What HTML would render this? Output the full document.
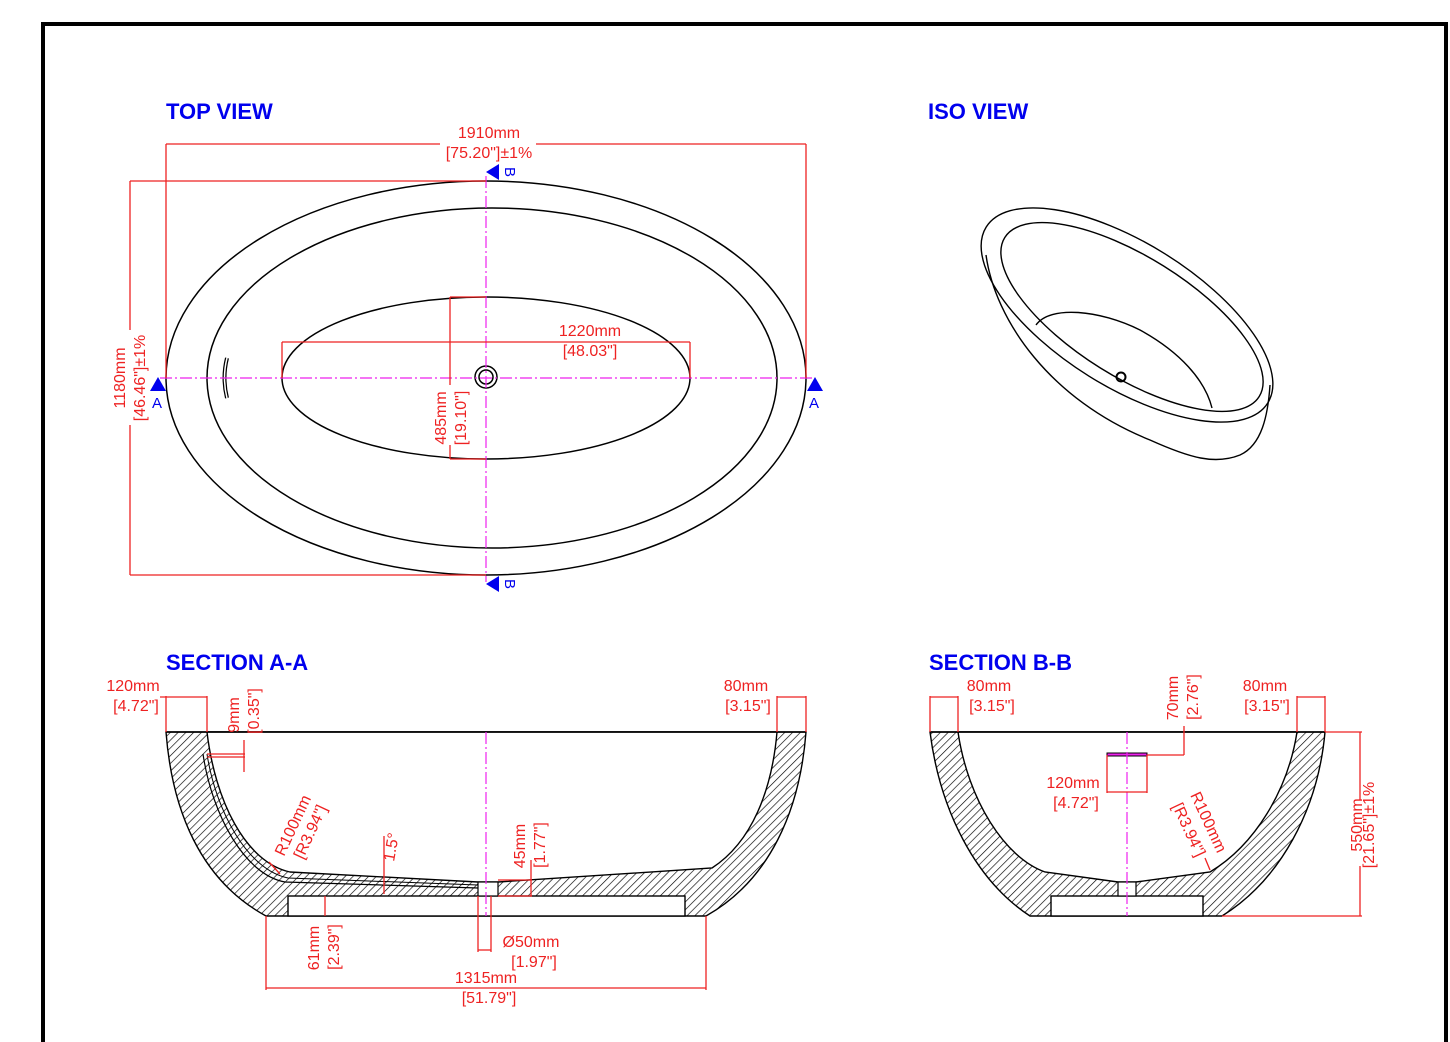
<!DOCTYPE html>
<html><head><meta charset="utf-8"><style>
html,body{margin:0;padding:0;background:#fff;}
svg{display:block;}
text{font-family:"Liberation Sans",Arial,sans-serif;}
.r{fill:#ee2222;font-size:16px;}
.t{fill:#0000ee;font-size:22px;font-weight:bold;}
.b{fill:#0000ee;font-size:15px;}
</style></head><body>
<svg width="1450" height="1042" viewBox="0 0 1450 1042" xmlns="http://www.w3.org/2000/svg">
<defs>
<pattern id="h" patternUnits="userSpaceOnUse" width="5.5" height="5.5" patternTransform="rotate(45)">
<rect width="5.5" height="5.5" fill="#fff"/><line x1="0" y1="0" x2="0" y2="5.5" stroke="#000" stroke-width="1.3"/>
</pattern>
</defs>
<rect x="0" y="0" width="1450" height="1042" fill="#fff"/>
<path d="M43,1042 V24 H1446 V1042" fill="none" stroke="#000" stroke-width="4"/>

<text class="t" x="166" y="119">TOP VIEW</text>
<text class="t" x="928" y="119">ISO VIEW</text>
<text class="t" x="166" y="670">SECTION A-A</text>
<text class="t" x="929" y="670">SECTION B-B</text>

<!-- TOP VIEW -->
<g fill="none" stroke="#000" stroke-width="1.5">
<ellipse cx="486" cy="378" rx="320" ry="197"/>
<ellipse cx="492" cy="378" rx="285" ry="170"/>
<ellipse cx="486" cy="378" rx="204" ry="81"/>
<circle cx="486" cy="377" r="11"/><circle cx="486" cy="377" r="7"/>
<path d="M227,358 Q222,378 227,398" stroke-width="4"/>
<path d="M227,358 Q222,378 227,398" stroke="#fff" stroke-width="1.5"/>
</g>
<g stroke="#ee22ee" stroke-width="1.2" stroke-dasharray="12,3,2,3" fill="none">
<line x1="160" y1="378" x2="812" y2="378"/>
<line x1="486" y1="176" x2="486" y2="582"/>
</g>
<g stroke="#ee2222" stroke-width="1.3" fill="none">
<line x1="166" y1="144" x2="440" y2="144"/><line x1="536" y1="144" x2="806" y2="144"/>
<line x1="166" y1="144" x2="166" y2="378"/><line x1="806" y1="144" x2="806" y2="378"/>
<line x1="130" y1="181" x2="486" y2="181"/><line x1="130" y1="575" x2="486" y2="575"/>
<line x1="130" y1="181" x2="130" y2="330"/><line x1="130" y1="425" x2="130" y2="575"/>
<line x1="282" y1="342" x2="690" y2="342"/><line x1="282" y1="342" x2="282" y2="378"/><line x1="690" y1="342" x2="690" y2="378"/>
<line x1="450" y1="297" x2="486" y2="297"/><line x1="450" y1="459" x2="486" y2="459"/>
<line x1="450" y1="297" x2="450" y2="385"/><line x1="450" y1="445" x2="450" y2="459"/>
</g>
<text class="r" x="489" y="138" text-anchor="middle">1910mm</text>
<text class="r" x="489" y="158" text-anchor="middle">[75.20"]±1%</text>
<text class="r" x="590" y="336" text-anchor="middle">1220mm</text>
<text class="r" x="590" y="356" text-anchor="middle">[48.03"]</text>
<text class="r" transform="translate(125,378) rotate(-90)" text-anchor="middle">1180mm</text>
<text class="r" transform="translate(145,378) rotate(-90)" text-anchor="middle">[46.46"]±1%</text>
<text class="r" transform="translate(446,418) rotate(-90)" text-anchor="middle">485mm</text>
<text class="r" transform="translate(466,418) rotate(-90)" text-anchor="middle">[19.10"]</text>
<g fill="#0000ee">
<path d="M150,391 L158,377 L166,391 z"/><path d="M807,391 L815,377 L823,391 z"/>
<path d="M499,164 L486,172 L499,180 z"/><path d="M499,576 L486,584 L499,592 z"/>
</g>
<text class="b" x="152" y="408">A</text><text class="b" x="809" y="408">A</text>
<text class="b" transform="translate(505,172) rotate(90)" text-anchor="middle">B</text>
<text class="b" transform="translate(505,584) rotate(90)" text-anchor="middle">B</text>

<!-- ISO VIEW -->
<g fill="none" stroke="#000" stroke-width="1.4">
<path d="M986,255 C995,320 1050,400 1150,440 C1190,458 1215,465 1240,455 C1262,445 1268,415 1270,385"/>
<ellipse cx="1127" cy="315" rx="166" ry="72" transform="rotate(32 1127 315)"/>
<ellipse cx="1132" cy="317" rx="150" ry="60" transform="rotate(32 1132 317)"/>
<path d="M1036,325 C1050,305 1100,310 1140,330 C1180,352 1205,380 1212,408"/>
<circle cx="1121" cy="377" r="4.5" stroke-width="2"/>
</g>

<!-- SECTION A-A -->
<path d="M166,732 C172,810 200,880 266,916 L706,916 C770,880 800,810 806,732 Z" fill="url(#h)" stroke="#000" stroke-width="1.4"/>
<path d="M207,732 C215,800 245,862 290,872 L478,882 L498,882 L712,868 C752,842 772,790 777,732 Z" fill="#fff" stroke="#000" stroke-width="1.4"/>
<rect x="288" y="896" width="397" height="20" fill="#fff" stroke="#000" stroke-width="1.4"/>
<rect x="478" y="882" width="20" height="14" fill="#fff" stroke="#000" stroke-width="1.2"/>
<path d="M203,754 C212,815 245,875 285,882 L478,888" fill="none" stroke="#000" stroke-width="1.2"/>
<path d="M207,754 C216,812 248,870 288,878 L478,885" fill="none" stroke="#000" stroke-width="1"/>
<line x1="166" y1="732" x2="806" y2="732" stroke="#000" stroke-width="1.4"/>
<line x1="486" y1="732" x2="486" y2="916" stroke="#ee22ee" stroke-width="1.2" stroke-dasharray="12,3,2,3"/>
<g stroke="#ee2222" stroke-width="1.3" fill="none">
<line x1="166" y1="696" x2="166" y2="732"/><line x1="207" y1="696" x2="207" y2="732"/><line x1="160" y1="697" x2="207" y2="697"/>
<line x1="777" y1="696" x2="777" y2="732"/><line x1="806" y1="696" x2="806" y2="732"/><line x1="777" y1="697" x2="806" y2="697"/>
<line x1="207" y1="754" x2="245" y2="754"/><line x1="207" y1="757" x2="245" y2="757"/><line x1="244" y1="740" x2="244" y2="772"/>
<line x1="266" y1="916" x2="266" y2="990"/><line x1="706" y1="916" x2="706" y2="990"/><line x1="266" y1="988" x2="706" y2="988"/>
<line x1="325" y1="896" x2="325" y2="916"/>
<line x1="478" y1="896" x2="478" y2="952"/><line x1="491" y1="896" x2="491" y2="952"/><line x1="478" y1="950" x2="491" y2="950"/>
<line x1="498" y1="880" x2="532" y2="880"/><line x1="498" y1="896" x2="532" y2="896"/><line x1="531" y1="860" x2="531" y2="896"/>
<line x1="384" y1="836" x2="384" y2="894"/>
<line x1="269" y1="862" x2="280" y2="874"/>
</g>
<text class="r" x="133" y="691" text-anchor="middle">120mm</text>
<text class="r" x="136" y="711" text-anchor="middle">[4.72"]</text>
<text class="r" x="746" y="691" text-anchor="middle">80mm</text>
<text class="r" x="748" y="711" text-anchor="middle">[3.15"]</text>
<text class="r" transform="translate(239,715) rotate(-90)" text-anchor="middle">9mm</text>
<text class="r" transform="translate(259,711) rotate(-90)" text-anchor="middle">[0.35"]</text>
<text class="r" transform="translate(284,857) rotate(-65)">R100mm</text>
<text class="r" transform="translate(303,860) rotate(-65)">[R3.94"]</text>
<text class="r" transform="translate(394,862) rotate(-80)">1.5°</text>
<text class="r" transform="translate(525,846) rotate(-90)" text-anchor="middle">45mm</text>
<text class="r" transform="translate(545,845) rotate(-90)" text-anchor="middle">[1.77"]</text>
<text class="r" transform="translate(319,948) rotate(-90)" text-anchor="middle">61mm</text>
<text class="r" transform="translate(339,947) rotate(-90)" text-anchor="middle">[2.39"]</text>
<text class="r" x="531" y="947" text-anchor="middle">Ø50mm</text>
<text class="r" x="534" y="967" text-anchor="middle">[1.97"]</text>
<text class="r" x="486" y="983" text-anchor="middle">1315mm</text>
<text class="r" x="489" y="1003" text-anchor="middle">[51.79"]</text>

<!-- SECTION B-B -->
<path d="M930,732 C940,810 975,880 1030,916 L1222,916 C1280,880 1318,810 1325,732 Z" fill="url(#h)" stroke="#000" stroke-width="1.4"/>
<path d="M958,732 C968,800 1005,858 1045,872 L1118,882 L1136,882 L1210,872 C1255,845 1288,790 1297,732 Z" fill="#fff" stroke="#000" stroke-width="1.4"/>
<rect x="1051" y="896" width="152" height="20" fill="#fff" stroke="#000" stroke-width="1.4"/>
<rect x="1118" y="882" width="18" height="14" fill="#fff" stroke="#000" stroke-width="1.2"/>
<line x1="930" y1="732" x2="1325" y2="732" stroke="#000" stroke-width="1.4"/>
<rect x="1107" y="753" width="40" height="3" fill="#ee22ee" stroke="#000" stroke-width="1"/>
<line x1="1127" y1="732" x2="1127" y2="916" stroke="#ee22ee" stroke-width="1.2" stroke-dasharray="12,3,2,3"/>
<g stroke="#ee2222" stroke-width="1.3" fill="none">
<line x1="930" y1="696" x2="930" y2="732"/><line x1="958" y1="696" x2="958" y2="732"/><line x1="930" y1="697" x2="958" y2="697"/>
<line x1="1297" y1="696" x2="1297" y2="732"/><line x1="1325" y1="696" x2="1325" y2="732"/><line x1="1297" y1="697" x2="1325" y2="697"/>
<line x1="1147" y1="755" x2="1184" y2="755"/><line x1="1184" y1="726" x2="1184" y2="755"/>
<line x1="1107" y1="755" x2="1107" y2="793"/><line x1="1147" y1="755" x2="1147" y2="793"/><line x1="1107" y1="792" x2="1147" y2="792"/>
<line x1="1325" y1="732" x2="1362" y2="732"/><line x1="1222" y1="916" x2="1362" y2="916"/>
<line x1="1360" y1="732" x2="1360" y2="800"/><line x1="1360" y1="866" x2="1360" y2="916"/>
<line x1="1210" y1="870" x2="1205" y2="858"/>
</g>
<text class="r" x="989" y="691" text-anchor="middle">80mm</text>
<text class="r" x="992" y="711" text-anchor="middle">[3.15"]</text>
<text class="r" x="1265" y="691" text-anchor="middle">80mm</text>
<text class="r" x="1267" y="711" text-anchor="middle">[3.15"]</text>
<text class="r" transform="translate(1178,698) rotate(-90)" text-anchor="middle">70mm</text>
<text class="r" transform="translate(1198,697) rotate(-90)" text-anchor="middle">[2.76"]</text>
<text class="r" x="1073" y="788" text-anchor="middle">120mm</text>
<text class="r" x="1076" y="808" text-anchor="middle">[4.72"]</text>
<text class="r" transform="translate(1190,795) rotate(65)">R100mm</text>
<text class="r" transform="translate(1172,806) rotate(65)">[R3.94"]</text>
<text class="r" transform="translate(1362,825) rotate(-90)" text-anchor="middle">550mm</text>
<text class="r" transform="translate(1374,825) rotate(-90)" text-anchor="middle">[21.65"]±1%</text>
</svg>
</body></html>
